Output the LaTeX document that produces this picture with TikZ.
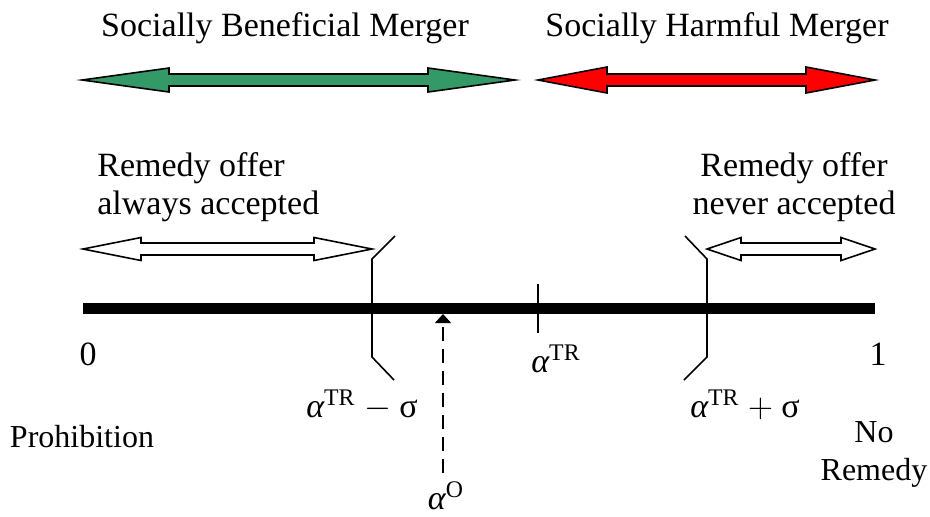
\documentclass[tikz,border=0pt]{standalone}
\usepackage{fontspec}
\setmainfont{Liberation Serif}
\usetikzlibrary{arrows.meta,positioning}
\definecolor{benefit}{HTML}{339966}
\definecolor{harm}{HTML}{FF0000}
\tikzset{
  lbl/.style={font=\fontsize{17}{19}\selectfont, inner sep=1pt},
  blockarrow/.style={draw=black, line width=0.8pt, line join=miter}
}
\newcommand{\alp}{\textit{α}}

\begin{document}
\begin{tikzpicture}[x=0.5pt,y=-0.5pt]
  \useasboundingbox (0,0) rectangle (930,516);
  % headings
  \node[lbl] (benef) at (285,28) {Socially Beneficial Merger};
  \node[lbl] (harmful) at (717,28) {Socially Harmful Merger};
  % block arrows: left tip / right tip / y / head length / head half width / shaft half width / colour
  \foreach \xa/\xb/\yy/\hl/\hw/\sw/\col in {82/515/80/87/12/6/benefit, 538/875/80/69/13/6/harm, 83/372/249/58/11.5/6/white, 707/875/249/34/11.5/6/white} {
    \filldraw[blockarrow, fill=\col] (\xa,\yy) -- (\xa+\hl,\yy-\hw) -- (\xa+\hl,\yy-\sw) -- (\xb-\hl,\yy-\sw)
      -- (\xb-\hl,\yy-\hw) -- (\xb,\yy) -- (\xb-\hl,\yy+\hw) -- (\xb-\hl,\yy+\sw)
      -- (\xa+\hl,\yy+\sw) -- (\xa+\hl,\yy+\hw) -- cycle;
  }
  \node[lbl, align=left, anchor=west] (always) at (95,187) {Remedy offer\\always accepted};
  \node[lbl, align=center] (never) at (794,187) {Remedy offer\\never accepted};
  % the axis
  \coordinate (zero) at (83,308);
  \coordinate (one) at (875,308);
  \draw[line width=5.5pt] (zero) -- (one);
  \draw[line width=0.8pt] (538,284) -- (538,333);
  % brackets
  \draw[line width=0.8pt] (395,236) -- (372,259) -- (372,357) -- (394,380);
  \draw[line width=0.8pt] (685,236) -- (707,259) -- (707,357) -- (684,380);
  \node[lbl] (lzero) at (88,354) {0};
  \node[lbl] (lone) at (878,354) {1};
  \node[lbl] (atr) at (556,359) {$\alp^{\mathrm{TR}}$};
  \node[lbl] (lower) at (362,405) {$\alp^{\mathrm{TR}}$ $-$ σ};
  \node[lbl] (upper) at (745,405) {$\alp^{\mathrm{TR}}$ $+$ σ};
  \node[lbl, font=\fontsize{16}{19}\selectfont] (prohib) at (82,437) {Prohibition};
  \node[lbl, font=\fontsize{16}{19}\selectfont, align=center] (noremedy) at (874,454) {No\\Remedy};
  \node[lbl] (aO) at (446,496) {$\alp^{\mathrm{O}}$};
  \coordinate (obase) at (443,314);
  \draw[line width=0.8pt, dash pattern=on 7pt off 4pt, -{Triangle[width=8pt,length=4.5pt]}]
    (aO.north -| obase) ++(0,-6) -- (obase);
\end{tikzpicture}
\end{document}
